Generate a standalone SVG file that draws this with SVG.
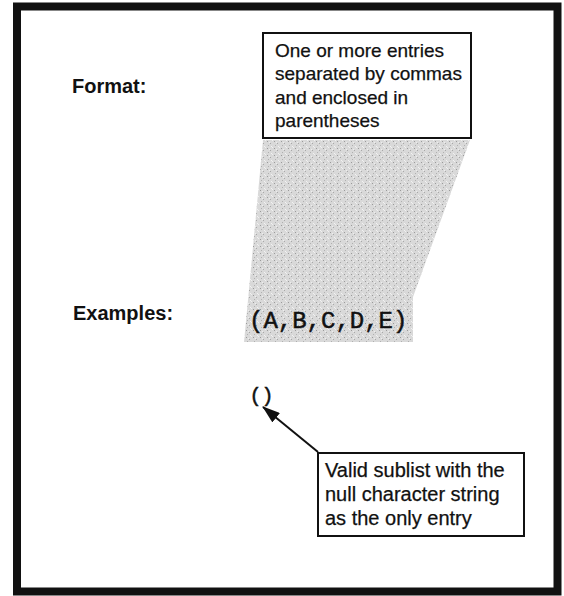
<svg xmlns="http://www.w3.org/2000/svg" width="564" height="596" viewBox="0 0 564 596">
  <style>
    .lbl { font-family: "Liberation Sans", Arial, sans-serif; font-size: 20px; font-weight: bold; fill: #111; }
    .note { font-family: "Liberation Sans", Arial, sans-serif; font-size: 19px; fill: #111; stroke: #111; stroke-width: 0.25; }
    .note2 { font-size: 20px; }
    .code { font-family: "Liberation Mono", "Courier New", monospace; fill: #111; stroke: #111; stroke-width: 0.5; }
    .box { fill: #fff; stroke: #111; stroke-width: 2; }
  </style>
  <defs>
    <pattern id="stipple" width="7" height="7" patternUnits="userSpaceOnUse">
      <rect width="7" height="7" fill="#d9d9d9"/>
      <rect x="1" y="1" width="1" height="1" fill="#9a9a9a"/>
      <rect x="4" y="3" width="1" height="1" fill="#a8a8a8"/>
      <rect x="2" y="5" width="1" height="1" fill="#b0b0b0"/>
      <rect x="5" y="6" width="1" height="1" fill="#f2f2f2"/>
      <rect x="6" y="0" width="1" height="1" fill="#f0f0f0"/>
      <rect x="3" y="2" width="1" height="1" fill="#eeeeee"/>
    </pattern>
    <marker id="arrow" viewBox="0 0 18 12" refX="17" refY="6" markerWidth="18" markerHeight="12" markerUnits="userSpaceOnUse" orient="auto">
      <path d="M0,0 L18,6 L0,12 Z" fill="#111"/>
    </marker>
  </defs>

  <g id="frame">
    <rect x="17" y="6.5" width="540.5" height="585" fill="#fff" stroke="#111" stroke-width="8"/>
  </g>

  <g id="labels">
    <text class="lbl" x="72" y="93">Format:</text>
    <text class="lbl" x="73" y="320">Examples:</text>
  </g>

  <g id="shade">
    <path d="M263,140 L470,140 L413,297 L413,342 L244,342 L248,300 Z" fill="url(#stipple)"/>
  </g>

  <g id="format-note">
    <rect class="box" x="263" y="33" width="208" height="105"/>
    <text class="note" x="275" y="56.5">One or more entries</text>
    <text class="note" x="275" y="80">separated by commas</text>
    <text class="note" x="275" y="103.5">and enclosed in</text>
    <text class="note" x="275" y="127">parentheses</text>
  </g>

  <g id="example-list">
    <text class="code" x="249" y="328" font-size="24">(A,B,C,D,E)</text>
  </g>

  <g id="example-null">
    <text class="code" x="249.5" y="402" font-size="20">()</text>
  </g>

  <g id="connectors">
    <line x1="318" y1="452" x2="263" y2="407" stroke="#111" stroke-width="2" marker-end="url(#arrow)"/>
  </g>

  <g id="null-note">
    <rect class="box" x="318" y="453" width="206" height="83"/>
    <text class="note note2" x="325" y="477">Valid sublist with the</text>
    <text class="note note2" x="325" y="501">null character string</text>
    <text class="note note2" x="325" y="525">as the only entry</text>
  </g>
</svg>
